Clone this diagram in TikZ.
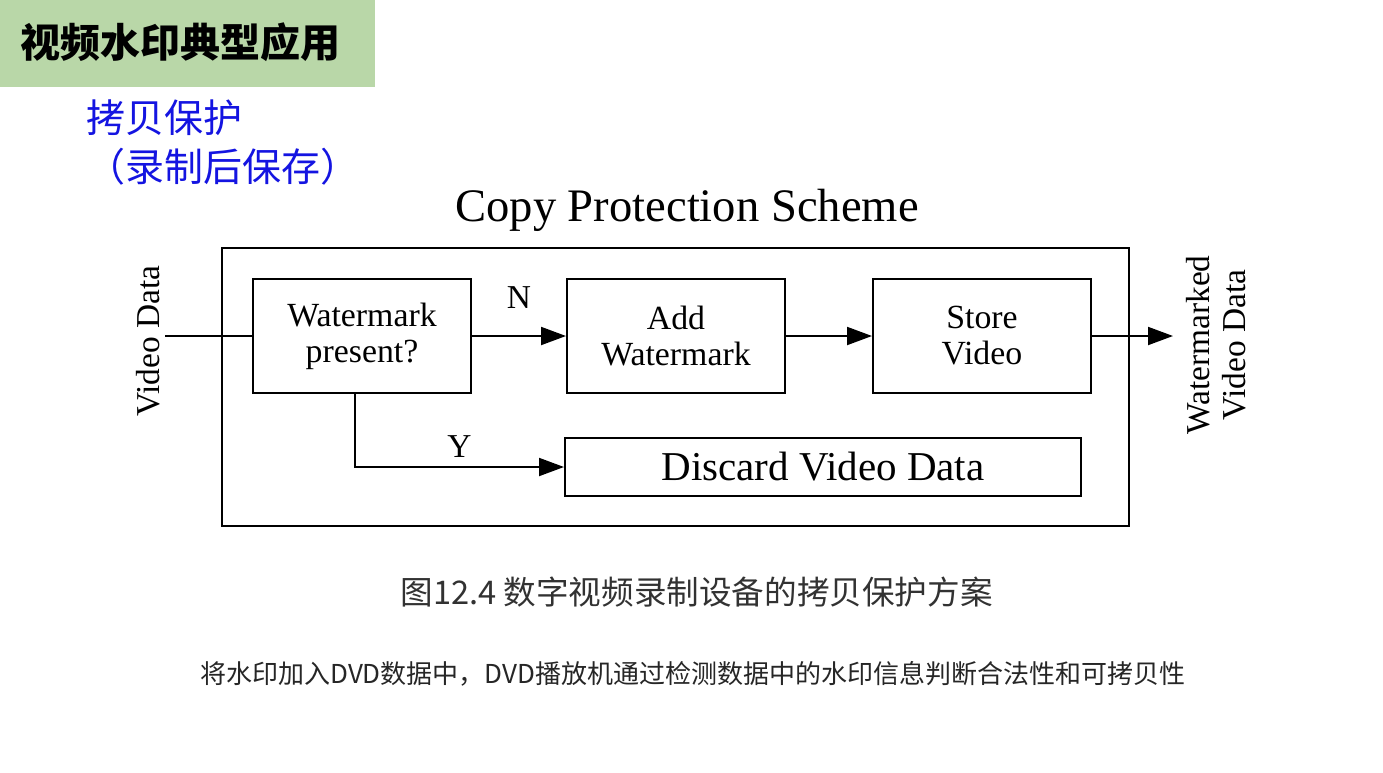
\documentclass[tikz,border=0pt]{standalone}
\usepackage{fontspec}
\usepackage{tikz}
\usetikzlibrary{arrows.meta}
\setmainfont{Liberation Serif}
\newfontfamily\cjk{Noto Sans CJK SC}
\definecolor{headgreen}{RGB}{185,215,168}
\definecolor{titleblue}{RGB}{20,20,225}
\definecolor{capgray}{RGB}{50,50,50}

\tikzset{
  blk/.style={draw,rectangle,line width=1pt,inner sep=0pt,align=center,
    font=\fontsize{16.9}{19}\selectfont},
  flow/.style={line width=1pt,-{Triangle[length=12.5pt,width=9pt]}},
  side/.style={rotate=90,align=center,font=\fontsize{16.7}{18}\selectfont}
}

\begin{document}
\begin{tikzpicture}[x=0.5pt,y=-0.5pt]
\useasboundingbox (0,0) rectangle (1383,772);

%header
\fill[headgreen] (0,0) rectangle (375,87);
\node [anchor=west,inner sep=0pt,font=\cjk\bfseries\fontsize{20}{24}\selectfont] (head) at(20,42){视频水印典型应用};
\node [anchor=west,inner sep=0pt,text=titleblue,font=\cjk\fontsize{19.5}{23}\selectfont] (sub1) at(86,118){拷贝保护};
\node [anchor=west,inner sep=0pt,text=titleblue,font=\cjk\fontsize{19.5}{23}\selectfont] (sub2) at(86,167){（录制后保存）};

\node [font=\fontsize{23.3}{26}\selectfont] (title) at(687,210){Copy Protection Scheme};
\draw [line width=1.2pt] (222,248) rectangle (1129,526);

\node [blk,minimum width=109pt,minimum height=57pt] (wm) at(362,336){\raisebox{-1pt}{Watermark}\\present?};
\node [blk,minimum width=109pt,minimum height=57pt] (add) at(676,336){\raisebox{-1pt}{Add}\\Watermark};
\node [blk,minimum width=109pt,minimum height=57pt] (store) at(982,336){\raisebox{-1pt}{Store}\\Video};
\node [blk,minimum width=258pt,minimum height=29pt,font=\fontsize{20.5}{24}\selectfont] (discard) at(823,467){Discard Video Data};

\coordinate (vin) at(165,336);
\coordinate (vout) at(1173,336);
\coordinate (ybend) at(355,467);
\node [side] (vinlab) at(148,341){Video Data};
\node [side] (voutlab) at(1216,345){Watermarked\\Video Data};

\draw[line width=1pt](vin) -- (wm.west);
\draw[flow](wm.east) -- (add.west) node[midway,above=10pt,font=\fontsize{16.7}{19}\selectfont]{N};
\draw[flow](add) -- (store);
\draw[flow](store.east) -- (vout);
\draw[flow](ybend |- wm.south) -- (ybend) -- (discard.west) node[pos=0.5,above=1pt,font=\fontsize{16.7}{19}\selectfont]{Y};

%captions
\node [anchor=west,inner sep=0pt,text=capgray,font=\cjk\fontsize{16.3}{19}\selectfont] (cap) at(400,592){图12.4 数字视频录制设备的拷贝保护方案};
\node [anchor=west,inner sep=0pt,text=black!85,font=\cjk\fontsize{13}{16}\selectfont] (note) at(200,674){将水印加入DVD数据中，DVD播放机通过检测数据中的水印信息判断合法性和可拷贝性};

\end{tikzpicture}
\end{document}
